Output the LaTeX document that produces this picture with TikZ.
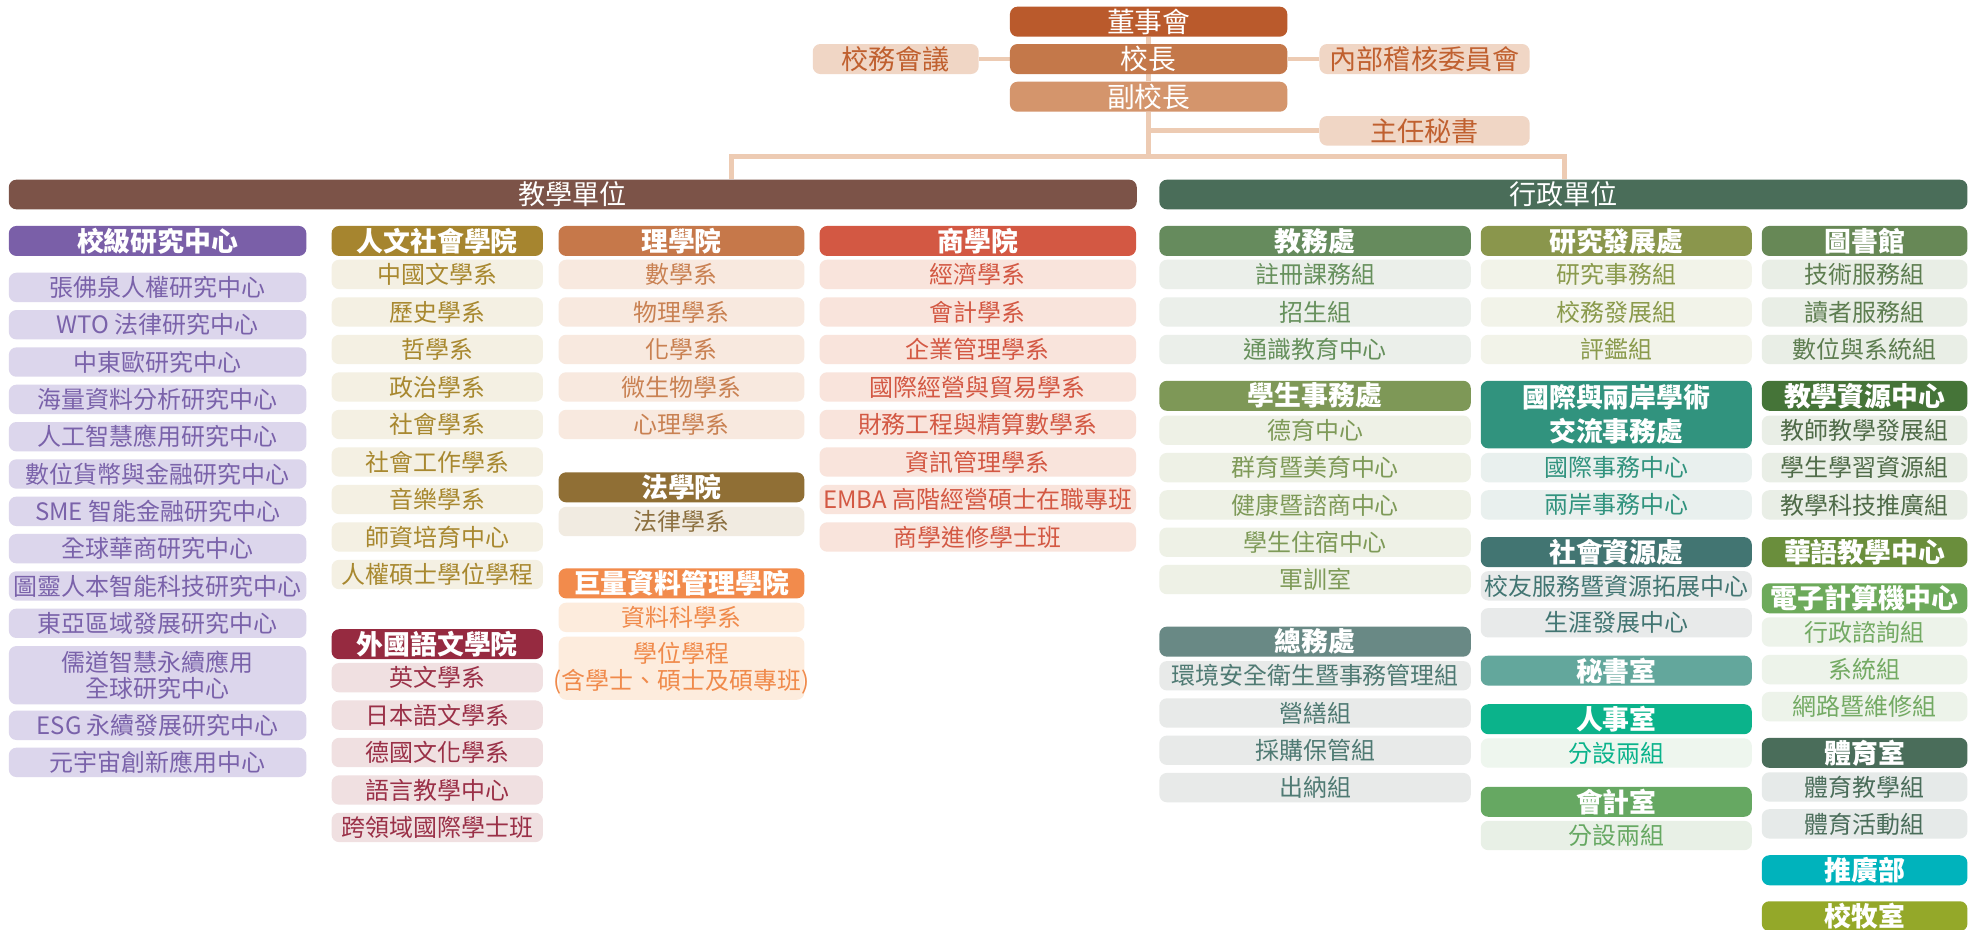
\documentclass[tikz,border=0pt]{standalone}
\usepackage{fontspec}
\setmainfont{Noto Sans CJK TC}
\pgfdeclarelayer{bg}
\pgfsetlayers{bg,main}
\definecolor{ln}{HTML}{EDCBB3}
\definecolor{dshc}{HTML}{BA5A2C}
\definecolor{xzc}{HTML}{C4784A}
\definecolor{fxc}{HTML}{D4956C}
\definecolor{sidef}{HTML}{F0D6C5}
\definecolor{sidet}{HTML}{C0602F}
\definecolor{jxc}{HTML}{7C5348}
\definecolor{xzdc}{HTML}{4A6D59}
\definecolor{c1h}{HTML}{7A5FA8}\definecolor{c1f}{HTML}{DCD6EC}\definecolor{c1t}{HTML}{7A62AA}
\definecolor{c2h}{HTML}{A6852F}\definecolor{c2f}{HTML}{F4F0E3}\definecolor{c2t}{HTML}{A8882F}
\definecolor{c2bh}{HTML}{962A40}\definecolor{c2bf}{HTML}{F0E0E1}\definecolor{c2bt}{HTML}{9A3047}
\definecolor{c3h}{HTML}{C6784A}\definecolor{c3f}{HTML}{F8E9DF}\definecolor{c3t}{HTML}{C98152}
\definecolor{c3bh}{HTML}{906F35}\definecolor{c3bf}{HTML}{F1EBE1}\definecolor{c3bt}{HTML}{8C7040}
\definecolor{c3ch}{HTML}{F28B4C}\definecolor{c3cf}{HTML}{FDECDD}\definecolor{c3ct}{HTML}{F08A4B}
\definecolor{c4h}{HTML}{D35843}\definecolor{c4f}{HTML}{F9E4DC}\definecolor{c4t}{HTML}{D35843}
\definecolor{a1h}{HTML}{668B5D}\definecolor{a1f}{HTML}{EBEFEA}\definecolor{a1t}{HTML}{66905C}
\definecolor{a2h}{HTML}{7E9857}\definecolor{a2f}{HTML}{EEF1E6}\definecolor{a2t}{HTML}{7E9A58}
\definecolor{a3h}{HTML}{698985}\definecolor{a3f}{HTML}{E8EAE9}\definecolor{a3t}{HTML}{4F7A73}
\definecolor{b1h}{HTML}{8A964C}\definecolor{b1f}{HTML}{F2F3E9}\definecolor{b1t}{HTML}{8A9A4C}
\definecolor{b2h}{HTML}{31937E}\definecolor{b2f}{HTML}{E9F0EE}\definecolor{b2t}{HTML}{31937E}
\definecolor{b3h}{HTML}{427572}\definecolor{b3f}{HTML}{E8EAEA}\definecolor{b3t}{HTML}{427572}
\definecolor{b4h}{HTML}{63A79C}
\definecolor{b5h}{HTML}{0BB38B}\definecolor{b5f}{HTML}{EEF6EE}\definecolor{b5t}{HTML}{0BB38B}
\definecolor{b6h}{HTML}{66A862}\definecolor{b6f}{HTML}{E8F0E6}\definecolor{b6t}{HTML}{66A862}
\definecolor{d1h}{HTML}{678856}\definecolor{d1f}{HTML}{E9EEE6}\definecolor{d1t}{HTML}{5D7D50}
\definecolor{d2h}{HTML}{457438}\definecolor{d2f}{HTML}{E9EEE6}\definecolor{d2t}{HTML}{4F6B48}
\definecolor{d3h}{HTML}{6A8E3C}
\definecolor{d4h}{HTML}{6DAA5B}\definecolor{d4f}{HTML}{EDF3EA}\definecolor{d4t}{HTML}{73AA63}
\definecolor{d5h}{HTML}{4A6D5A}\definecolor{d5f}{HTML}{E6EAE9}\definecolor{d5t}{HTML}{4A6D5A}
\definecolor{d6h}{HTML}{00B3BC}
\definecolor{d7h}{HTML}{94A829}
\newcommand\mb[1]{\makebox[0pt]{#1}}
% style, name, x1, x2, ytop, height, text
\newcommand\ub[7]{\node[#1,minimum width={(#4)-(#3)},minimum height={#6}] (#2) at ({((#3)+(#4))/2},{(#5)+(#6)/2}) {\mb{#7}};}
\newcommand\ubm[7]{\node[#1,align=center,minimum width={(#4)-(#3)},minimum height={#6}] (#2) at ({((#3)+(#4))/2},{(#5)+(#6)/2}) {#7};}
\newcommand\Hdr[4]{\ub{hd=#1}{#2}{\XL}{\XR}{#3}{23.8}{#4}}
\newcommand\Itm[4]{\ub{#1}{#2}{\XL}{\XR}{#3}{23.3}{#4}}
\begin{document}
\begin{tikzpicture}[x=1pt,y=-1pt,
  base/.style={rounded corners=6pt,inner sep=0pt,draw=none},
  top/.style={base,fill=#1,text=white,font=\fontsize{22}{24}\selectfont},
  side/.style={base,fill=sidef,text=sidet,font=\fontsize{21.5}{24}\selectfont},
  bar/.style={base,fill=#1,text=white,font=\fontsize{21.5}{24}\selectfont},
  hd/.style={base,fill=#1,text=white,font=\fontsize{21.3}{27}\selectfont\bfseries},
  itm/.style 2 args={base,fill=#1,text=#2,font=\fontsize{19}{21}\selectfont},
  conn/.style={draw=ln,line width=3.7pt}]
\useasboundingbox (0,0) rectangle (1568,737);
% top
\ub{top=dshc}{dsh}{801}{1021}{5.3}{23.8}{董事會}
\ub{top=xzc}{xz}{801}{1021}{34.9}{23.8}{校長}
\ub{top=fxc}{fxz}{801}{1021}{64.8}{23.8}{副校長}
\ub{side}{xwhy}{644.6}{776.2}{34.9}{23.8}{校務會議}
\ub{side}{nbjh}{1046.5}{1213.2}{34.9}{23.8}{內部稽核委員會}
\ub{side}{zrms}{1046.5}{1213.2}{92}{23.5}{主任秘書}
\ub{bar=jxc}{jxdw}{7}{901.6}{142.5}{23.5}{教學單位}
\ub{bar=xzdc}{xzdw}{919.5}{1560.4}{142.5}{23.5}{行政單位}
% column 1
\def\XL{7}\def\XR{243}
\Hdr{c1h}{k0}{179.2}{校級研究中心}
\Itm{itm={c1f}{c1t}}{k1}{216.3}{張佛泉人權研究中心}
\Itm{itm={c1f}{c1t}}{k2}{245.9}{WTO 法律研究中心}
\Itm{itm={c1f}{c1t}}{k3}{275.5}{中東歐研究中心}
\Itm{itm={c1f}{c1t}}{k4}{305.1}{海量資料分析研究中心}
\Itm{itm={c1f}{c1t}}{k5}{334.7}{人工智慧應用研究中心}
\Itm{itm={c1f}{c1t}}{k6}{364.3}{數位貨幣與金融研究中心}
\Itm{itm={c1f}{c1t}}{k7}{393.9}{SME 智能金融研究中心}
\Itm{itm={c1f}{c1t}}{k8}{423.5}{全球華商研究中心}
\Itm{itm={c1f}{c1t}}{k9}{453.1}{圖靈人本智能科技研究中心}
\Itm{itm={c1f}{c1t}}{k10}{482.7}{東亞區域發展研究中心}
\ubm{itm={c1f}{c1t}}{k11}{\XL}{\XR}{512.4}{46.3}{\mb{儒道智慧永續應用}\\\mb{全球研究中心}}
\Itm{itm={c1f}{c1t}}{k12}{563.6}{ESG 永續發展研究中心}
\Itm{itm={c1f}{c1t}}{k13}{593}{元宇宙創新應用中心}
% column 2
\def\XL{263}\def\XR{430.6}
\Hdr{c2h}{h0}{179.2}{人文社會學院}
\Itm{itm={c2f}{c2t}}{h1}{206}{中國文學系}
\Itm{itm={c2f}{c2t}}{h2}{235.75}{歷史學系}
\Itm{itm={c2f}{c2t}}{h3}{265.5}{哲學系}
\Itm{itm={c2f}{c2t}}{h4}{295.25}{政治學系}
\Itm{itm={c2f}{c2t}}{h5}{325}{社會學系}
\Itm{itm={c2f}{c2t}}{h6}{354.75}{社會工作學系}
\Itm{itm={c2f}{c2t}}{h7}{384.5}{音樂學系}
\Itm{itm={c2f}{c2t}}{h8}{414.25}{師資培育中心}
\Itm{itm={c2f}{c2t}}{h9}{444}{人權碩士學位學程}
\Hdr{c2bh}{f0}{499}{外國語文學院}
\Itm{itm={c2bf}{c2bt}}{f1}{525.8}{英文學系}
\Itm{itm={c2bf}{c2bt}}{f2}{555.5}{日本語文學系}
\Itm{itm={c2bf}{c2bt}}{f3}{585.2}{德國文化學系}
\Itm{itm={c2bf}{c2bt}}{f4}{614.9}{語言教學中心}
\Itm{itm={c2bf}{c2bt}}{f5}{644.6}{跨領域國際學士班}
% column 3
\def\XL{443}\def\XR{638}
\Hdr{c3h}{s0}{179.2}{理學院}
\Itm{itm={c3f}{c3t}}{s1}{206}{數學系}
\Itm{itm={c3f}{c3t}}{s2}{235.75}{物理學系}
\Itm{itm={c3f}{c3t}}{s3}{265.5}{化學系}
\Itm{itm={c3f}{c3t}}{s4}{295.25}{微生物學系}
\Itm{itm={c3f}{c3t}}{s5}{325}{心理學系}
\Hdr{c3bh}{l0}{374.6}{法學院}
\Itm{itm={c3bf}{c3bt}}{l1}{402}{法律學系}
\Hdr{c3ch}{g0}{450.8}{巨量資料管理學院}
\Itm{itm={c3cf}{c3ct}}{g1}{478}{資料科學系}
\ubm{itm={c3cf}{c3ct}}{g2}{\XL}{\XR}{505}{50}{\mb{學位學程}\\\mb{(含學士、碩士及碩專班)}}
% column 4
\def\XL{650}\def\XR{901}
\Hdr{c4h}{m0}{179.2}{商學院}
\Itm{itm={c4f}{c4t}}{m1}{206}{經濟學系}
\Itm{itm={c4f}{c4t}}{m2}{235.75}{會計學系}
\Itm{itm={c4f}{c4t}}{m3}{265.5}{企業管理學系}
\Itm{itm={c4f}{c4t}}{m4}{295.25}{國際經營與貿易學系}
\Itm{itm={c4f}{c4t}}{m5}{325}{財務工程與精算數學系}
\Itm{itm={c4f}{c4t}}{m6}{354.75}{資訊管理學系}
\Itm{itm={c4f}{c4t}}{m7}{384.5}{EMBA 高階經營碩士在職專班}
\Itm{itm={c4f}{c4t}}{m8}{414.25}{商學進修學士班}
% column 5
\def\XL{919.5}\def\XR{1166.5}
\Hdr{a1h}{a0}{179.2}{教務處}
\Itm{itm={a1f}{a1t}}{a1}{206}{註冊課務組}
\Itm{itm={a1f}{a1t}}{a2}{235.75}{招生組}
\Itm{itm={a1f}{a1t}}{a3}{265.5}{通識教育中心}
\Hdr{a2h}{u0}{302}{學生事務處}
\Itm{itm={a2f}{a2t}}{u1}{329.6}{德育中心}
\Itm{itm={a2f}{a2t}}{u2}{359.2}{群育暨美育中心}
\Itm{itm={a2f}{a2t}}{u3}{388.8}{健康暨諮商中心}
\Itm{itm={a2f}{a2t}}{u4}{418.4}{學生住宿中心}
\Itm{itm={a2f}{a2t}}{u5}{448}{軍訓室}
\Hdr{a3h}{z0}{497}{總務處}
\Itm{itm={a3f}{a3t}}{z1}{524.3}{環境安全衛生暨事務管理組}
\Itm{itm={a3f}{a3t}}{z2}{553.8}{營繕組}
\Itm{itm={a3f}{a3t}}{z3}{583.4}{採購保管組}
\Itm{itm={a3f}{a3t}}{z4}{613}{出納組}
% column 6
\def\XL{1174.4}\def\XR{1389.4}
\Hdr{b1h}{r0}{179.2}{研究發展處}
\Itm{itm={b1f}{b1t}}{r1}{206}{研究事務組}
\Itm{itm={b1f}{b1t}}{r2}{235.75}{校務發展組}
\Itm{itm={b1f}{b1t}}{r3}{265.5}{評鑑組}
\ubm{hd=b2h}{i0}{\XL}{\XR}{302}{53.6}{\mb{國際與兩岸學術}\\\mb{交流事務處}}
\Itm{itm={b2f}{b2t}}{i1}{359.2}{國際事務中心}
\Itm{itm={b2f}{b2t}}{i2}{388.8}{兩岸事務中心}
\Hdr{b3h}{o0}{426}{社會資源處}
\Itm{itm={b3f}{b3t}}{o1}{453}{校友服務暨資源拓展中心}
\Itm{itm={b3f}{b3t}}{o2}{482.3}{生涯發展中心}
\Hdr{b4h}{ms}{520}{秘書室}
\Hdr{b5h}{rs0}{558.5}{人事室}
\Itm{itm={b5f}{b5t}}{rs1}{585.6}{分設兩組}
\Hdr{b6h}{kj0}{624}{會計室}
\Itm{itm={b6f}{b6t}}{kj1}{651}{分設兩組}
% column 7
\def\XL{1397.3}\def\XR{1560.4}
\Hdr{d1h}{t0}{179.2}{圖書館}
\Itm{itm={d1f}{d1t}}{t1}{206}{技術服務組}
\Itm{itm={d1f}{d1t}}{t2}{235.75}{讀者服務組}
\Itm{itm={d1f}{d1t}}{t3}{265.5}{數位與系統組}
\Hdr{d2h}{e0}{302}{教學資源中心}
\Itm{itm={d2f}{d2t}}{e1}{329.6}{教師教學發展組}
\Itm{itm={d2f}{d2t}}{e2}{359.2}{學生學習資源組}
\Itm{itm={d2f}{d2t}}{e3}{388.8}{教學科技推廣組}
\Hdr{d3h}{hy}{426}{華語教學中心}
\Hdr{d4h}{cc0}{462.6}{電子計算機中心}
\Itm{itm={d4f}{d4t}}{cc1}{489.6}{行政諮詢組}
\Itm{itm={d4f}{d4t}}{cc2}{519.4}{系統組}
\Itm{itm={d4f}{d4t}}{cc3}{548.8}{網路暨維修組}
\Hdr{d5h}{ty0}{585.2}{體育室}
\Itm{itm={d5f}{d5t}}{ty1}{612.5}{體育教學組}
\Itm{itm={d5f}{d5t}}{ty2}{641.8}{體育活動組}
\Hdr{d6h}{tg}{678.3}{推廣部}
\Hdr{d7h}{xm}{714.8}{校牧室}
% connectors
\coordinate (bm) at (911,124.3);
\coordinate (bl) at (580,124.3);
\coordinate (br) at (1241,124.3);
\begin{pgfonlayer}{bg}
\fill[white] (0,0) rectangle (1568,737);
\draw[conn] (dsh.south) -- (xz.north);
\draw[conn] (xz.south) -- (fxz.north);
\draw[conn] (xwhy.east) -- (xz.west);
\draw[conn] (xz.east) -- (nbjh.west);
\draw[conn] (fxz.south) -- (fxz.south |- bm);
\draw[conn] (fxz.south |- zrms.west) -- (zrms.west);
\draw[conn] (jxdw.north -| bl) -- (bl) -- (br) -- (xzdw.north -| br);
\end{pgfonlayer}
\end{tikzpicture}
\end{document}
